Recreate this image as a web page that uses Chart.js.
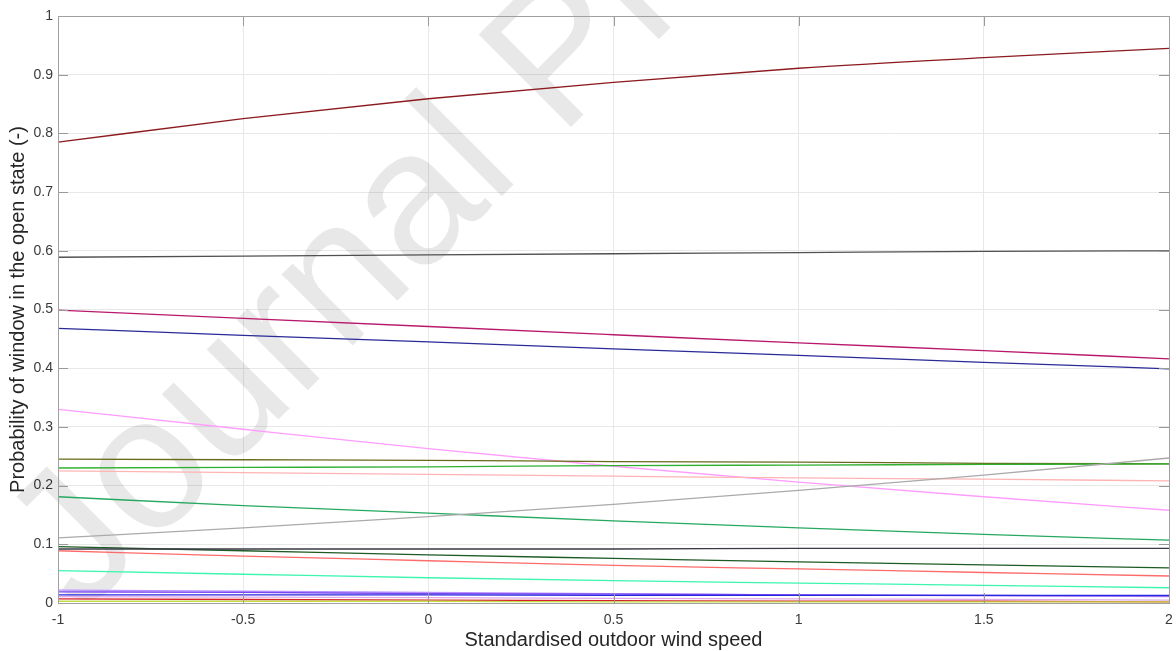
<!DOCTYPE html>
<html>
<head>
<meta charset="utf-8">
<script src="https://cdn.jsdelivr.net/npm/chart.js@4.4.1/dist/chart.umd.min.js"></script>
<style>
  html, body { margin: 0; padding: 0; background: #ffffff; }
  #wrap { width: 1176px; height: 651px; }
</style>
</head>
<body>
<div id="wrap"><canvas id="c" width="1176" height="651"></canvas></div>
<script>
// ---- data ----
const xValues = [-1, -0.5, 0, 0.5, 1, 1.5, 2];
const xTickValues = [-1, -0.5, 0, 0.5, 1, 1.5, 2];
const xTickLabels = ['-1', '-0.5', '0', '0.5', '1', '1.5', '2'];
const yTickValues = [0, 0.1, 0.2, 0.3, 0.4, 0.5, 0.6, 0.7, 0.8, 0.9, 1];
const yTickLabels = ['0', '0.1', '0.2', '0.3', '0.4', '0.5', '0.6', '0.7', '0.8', '0.9', '1'];

const sMaroon     = [0.785, 0.825, 0.859, 0.887, 0.911, 0.929, 0.945];
const sDarkGrey   = [0.589, 0.591, 0.593, 0.595, 0.597, 0.599, 0.600];
const sMagenta    = [0.499, 0.485, 0.471, 0.457, 0.443, 0.430, 0.416];
const sNavy       = [0.468, 0.456, 0.445, 0.433, 0.422, 0.410, 0.399];
const sViolet     = [0.330, 0.296, 0.263, 0.233, 0.206, 0.181, 0.158];
const sOlive      = [0.245, 0.244, 0.243, 0.241, 0.240, 0.238, 0.237];
const sGreen      = [0.230, 0.231, 0.232, 0.234, 0.235, 0.236, 0.237];
const sLightPink  = [0.225, 0.222, 0.219, 0.216, 0.213, 0.211, 0.208];
const sSeaGreen   = [0.181, 0.166, 0.153, 0.140, 0.128, 0.117, 0.107];
const sGrey       = [0.111, 0.128, 0.147, 0.168, 0.192, 0.218, 0.247];
const sDarkGreen  = [0.096, 0.089, 0.082, 0.076, 0.070, 0.065, 0.060];
const sBlackish   = [0.092, 0.092, 0.092, 0.092, 0.093, 0.093, 0.093];
const sSalmon     = [0.089, 0.080, 0.072, 0.064, 0.058, 0.052, 0.046];
const sAqua       = [0.055, 0.049, 0.043, 0.038, 0.034, 0.030, 0.026];
const sLilac      = [0.022, 0.020, 0.018, 0.016, 0.014, 0.012, 0.011];
const sPurple     = [0.019, 0.018, 0.016, 0.015, 0.014, 0.013, 0.012];
const sBlue       = [0.014, 0.014, 0.014, 0.013, 0.013, 0.013, 0.013];
const sLavender   = [0.011, 0.010, 0.009, 0.008, 0.007, 0.006, 0.005];
const sRed        = [0.007, 0.006, 0.005, 0.004, 0.003, 0.003, 0.002];
const sYellowGrn  = [0.003, 0.003, 0.003, 0.002, 0.002, 0.002, 0.002];

const seriesList = [
  [sYellowGrn, '#c4dc4a'],
  [sRed,       '#d8202a'],
  [sLavender,  '#e2a8e8'],
  [sBlue,      '#2828e0'],
  [sPurple,    '#7a48f0'],
  [sLilac,     '#b890ff'],
  [sAqua,      '#3cf6b0'],
  [sSalmon,    '#ff6a6a'],
  [sBlackish,  '#3a3a44'],
  [sDarkGreen, '#1e5a24'],
  [sGrey,      '#aaaaaa'],
  [sSeaGreen,  '#27a860'],
  [sLightPink, '#ffb4b4'],
  [sGreen,     '#30b030'],
  [sOlive,     '#6a6a1c'],
  [sViolet,    '#ff9cff'],
  [sNavy,      '#2a2a98'],
  [sMagenta,   '#b8186c'],
  [sDarkGrey,  '#505050'],
  [sMaroon,    '#8c1a1e']
];

const datasets = seriesList.map(([vals, col]) => ({
  data: xValues.map((x, i) => ({ x: x, y: vals[i] })),
  borderColor: col,
  backgroundColor: col,
  borderWidth: 1.3,
  pointRadius: 0,
  fill: false,
  cubicInterpolationMode: 'monotone'
}));

const FONT = '"Liberation Sans", Arial, Helvetica, sans-serif';

const watermark = {
  id: 'watermark',
  beforeDatasetsDraw(chart) {
    const ctx = chart.ctx;
    ctx.save();
    ctx.translate(82, 616);
    ctx.rotate(-Math.PI / 4);
    ctx.font = '190px ' + FONT;
    ctx.fillStyle = 'rgba(0,0,0,0.09)';
    ctx.textBaseline = 'alphabetic';
    ctx.fillText('Journal Pre-proof', 0, 0);
    ctx.restore();
  }
};

const boxAndTicks = {
  id: 'boxAndTicks',
  afterDatasetsDraw(chart) {
    const ctx = chart.ctx;
    const a = chart.chartArea;
    const xs = chart.scales.x, ys = chart.scales.y;
    const L = 10;
    ctx.save();
    ctx.strokeStyle = '#9a9a9a';
    ctx.lineWidth = 1;
    ctx.beginPath();
    xTickValues.forEach(v => {
      const px = Math.round(xs.getPixelForValue(v)) + 0.5;
      ctx.moveTo(px, a.bottom); ctx.lineTo(px, a.bottom - L);
      ctx.moveTo(px, a.top); ctx.lineTo(px, a.top + L);
    });
    yTickValues.forEach(v => {
      const py = Math.round(ys.getPixelForValue(v)) + 0.5;
      ctx.moveTo(a.left, py); ctx.lineTo(a.left + L, py);
      ctx.moveTo(a.right, py); ctx.lineTo(a.right - L, py);
    });
    ctx.stroke();
    ctx.strokeStyle = '#a0a0a0';
    ctx.strokeRect(Math.round(a.left) + 0.5, Math.round(a.top) + 0.5,
                   Math.round(a.right - a.left), Math.round(a.bottom - a.top));
    ctx.restore();
  }
};

new Chart(document.getElementById('c'), {
  type: 'line',
  data: { datasets: datasets },
  plugins: [watermark, boxAndTicks],
  options: {
    responsive: false,
    animation: false,
    layout: { padding: { top: 16, right: 7, left: 0, bottom: 0 } },
    plugins: { legend: { display: false }, tooltip: { enabled: false } },
    scales: {
      x: {
        type: 'linear',
        min: -1, max: 2,
        afterFit(scale) { scale.height = 48; scale.paddingLeft = 0; scale.paddingRight = 0; },
        afterBuildTicks(scale) { scale.ticks = xTickValues.map(v => ({ value: v })); },
        grid: { color: '#e8e8e8', drawTicks: false, lineWidth: 1 },
        border: { display: false },
        ticks: {
          padding: 9,
          color: '#3a3a3a',
          font: { family: FONT, size: 14 },
          maxRotation: 0,
          callback(v) { const i = xTickValues.indexOf(v); return i >= 0 ? xTickLabels[i] : ''; }
        },
        title: {
          display: true,
          text: 'Standardised outdoor wind speed',
          color: '#262626',
          font: { family: FONT, size: 20 },
          padding: { top: 0, bottom: -1 }
        }
      },
      y: {
        type: 'linear',
        min: 0, max: 1,
        afterFit(scale) { scale.width = 58; scale.paddingTop = 0; scale.paddingBottom = 0; },
        afterBuildTicks(scale) { scale.ticks = yTickValues.map(v => ({ value: v })); },
        grid: { color: '#e8e8e8', drawTicks: false, lineWidth: 1 },
        border: { display: false },
        ticks: {
          padding: 5,
          color: '#3a3a3a',
          font: { family: FONT, size: 14 },
          callback(v) { const i = yTickValues.findIndex(t => Math.abs(t - v) < 1e-9); return i >= 0 ? yTickLabels[i] : ''; }
        },
        title: {
          display: true,
          text: 'Probability of window in the open state (-)',
          color: '#262626',
          font: { family: FONT, size: 20 },
          padding: { top: 6, bottom: 0 }
        }
      }
    }
  }
});
</script>
</body>
</html>
